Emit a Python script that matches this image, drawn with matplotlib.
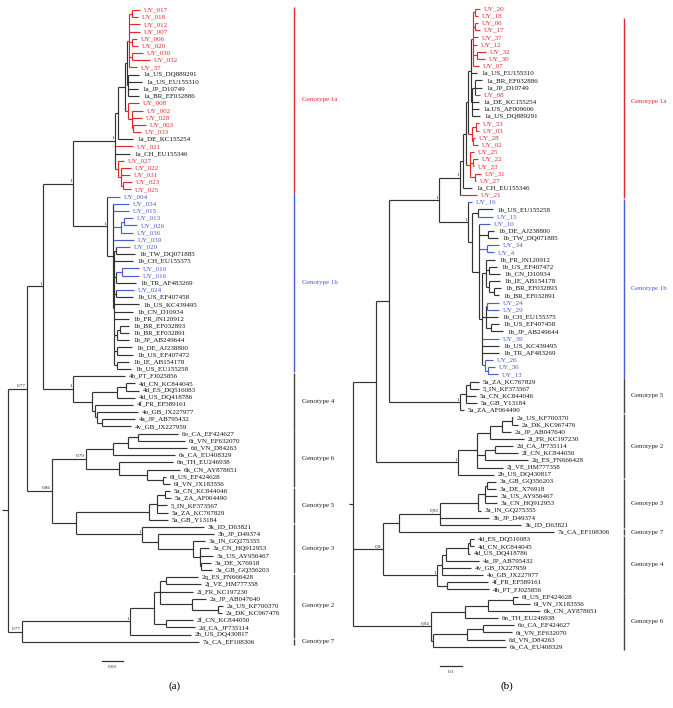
import matplotlib
matplotlib.use("Agg")
import matplotlib.pyplot as plt
from matplotlib.transforms import blended_transform_factory

# ---------------- data ----------------
# Branch lengths are given in scale-bar pixels of the original figure;
# unit = SCALE / SCALE_PX converts them to substitutions/site.
SCALE_A, SCALE_A_PX = 0.09, 21.0
SCALE_B, SCALE_B_PX = 0.1, 22.0

TREE_A = """
(
 (
  (
   (
    (
     (
      (
       (
       ((UY_017:8,UY_018:6):3,UY_012:11,UY_007:11,(UY_006:5,UY_020:6):3,(UY_030:11,UY_032:18):3,UY_37:8):2,
       (1a_US_DQ889291:11,1a_US_EU155310:14,1a_JP_D10749:10,1a_BR_EF032886:11):1
      ):2,
      (UY_008:11,(UY_002:11,UY_028:10,(UY_003:13,UY_033:8):1):4):3
     ):7,
     1a_DE_KC155254:15
    ):3,
    UY_021:18,
    1a_CH_EU155346:15,
    (UY_027:6,(UY_022:10,UY_031:9,(UY_023:9,UY_025:8):2):3):3
   )1:42,
   (UY_004:13,
    (UY_034:16,UY_015:16,((UY_013:9,UY_026:13):3,UY_036:12):8,UY_039:21,
     ((UY_029:14,1b_TW_DQ071885:19):2,1b_CH_EU155375:19,((UY_010:17,UY_016:17):6,1b_TR_AF483269:20):2,
      (UY_024:18,1b_US_EF407458:17):2,1b_US_KC439495:25,1b_CN_D10934:19,1b_FR_JN120912:15,
      ((1b_BR_EF032893:9,1b_BR_EF032891:9):3,1b_JP_AB249644:12):3,
      (1b_DE_AJ238800:15,1b_US_EF407472:16):3,(1b_IE_AB154178:12,1b_US_EU155258:14):3):1
    ):6
   )1:34
  )1:30,
  (4b_PT_FJ025856:52,
   (((4d_CN_KC844045:9,4d_ES_DQ516083:13):9,4d_US_DQ418786:18):25,
    (4f_FR_EF589161:38,(4o_GB_JX227977:41,(4a_JP_AB795432:33,4v_GB_JX227959:29):5):2):3):19
  )1:30
 )1:16,
 (
  ((((6o_CA_EF424627:40,6t_VN_EF632070:47):10,6d_VN_D84263:59):15,6s_CA_EU408329:62):27,
   (6n_TH_EU246938:54,(6k_CN_AY878651:33,(6l_US_EF424628:3,6l_VN_JX183556:7):16):28):33)0.79:34,
  ((((5a_CN_KC844046:5,5a_ZA_AF064490:6):8,5_IN_KF373567:10,5a_ZA_KC767829:11):8,5a_GB_Y13184:19):73,
   (3k_ID_D63821:62,(3b_JP_D49374:56,(3a_IN_GQ275355:12,(3a_CN_HQ912953:9,3a_US_AY956467:13,
     (3a_DE_X76918:10,3a_GB_GQ356203:11):1):7):35):16)1:66):24
 )0.86:25
)0.77:19,
(
 ((((2q_ES_FN666428:32,2j_VE_HM777358:35):6,2i_FR_KC197230:33,
     (2a_JP_AB047640:14,(2a_US_KF700370:5,2a_DK_KC967476:4):26):32):6,
    (2f_CN_KC844050:27,2d_CA_JF735114:29):12):24,2h_US_DQ430817:61)1:108,
 7a_CA_EF108306:177
)0.77:14
):6;
"""

TREE_B = """
(
 (
  (
   (
    (
     (
      (
       (
        (
        ((UY_20:5,UY_18:3):2,(UY_06:3,UY_17:5):2,UY_37:5,UY_12:4,(UY_32:9,UY_30:8):4,UY_07:6):2,
        1a_US_EU155310:6,
        ((1a_BR_EF032886:7,1a_JP_D10749:7,UY_08:5):3,1a_DE_KC155254:7,1a.US_AF009606:7,1a_US_DQ889291:8):1
       ):3,
       ((UY_33:3,UY_03:3):4,(UY_28:2,UY_02:5):1):4
      ):2,
      (UY_25:4,(UY_22:5,UY_23:1):3,(UY_31:6,UY_27:1):5):4
     ):3,
     1a_CH_EU155346:9
    ):3,
    UY_21:17
   )1:21,
   (UY_16:4,
    ((1b_US_EU155258:15,UY_15:15):6,
     (UY_10:11,(1b_DE_AJ238800:6,1b_TW_DQ071885:10):9,(UY_34:12,UY_4:7):8,
      ((1b_FR_JN120912:9,(1b_US_EF407472:8,1b_CN_D10934:11):3,(1b_IE_AB154178:11,(1b_BR_EF032893:7,1b_BR_EF032891:5):5):3):4,
       ((UY_24:12,UY_29:12):1,1b_CH_EU155375:12,(1b_US_EF407458:8,1b_JP_AB249644:12):5):4,
       UY_39:17,1b_US_KC439495:17,1b_TR_AF483269:17,
       (UY_26:8,(UY_36:7,UY_13:10):3):3):3
     ):7
    ):4
   )1:29
  )1:50,
  (((5a_ZA_KC767829:9,5_IN_KF373567:9):4,5a_CN_KC844046:10,5a_GB_Y13184:11):6,5a_ZA_AF064490:4)1:71
 ):13,
 (
  ((((2a_US_KF700370:1,2a_DK_KC967476:6):10,2a_JP_AB047640:9):12,2i_FR_KC197230:34):13,
   ((2d_CA_JF735114:18,2f_CN_KC844050:23):10,2q_ES_FN666428:43):8,
   2j_VE_HM777358:26):19,
  2b_US_DQ430817:36
 )1:82
):23,
(
 (
  ((((3a_GB_GQ356203:9,3a_DE_X76918:9):2,3a_US_AY956467:12,3a_CN_HQ912953:12):7,3a_IN_GQ275355:3):38,
   3b_JP_D49374:49,3k_ID_D63821:81)0.92:41,
  7a_CA_EF108306:155
 ):16,
 (((((4d_ES_DQ516083:4,4d_CN_KC844045:4):2,4d_US_DQ418786:2):22,4a_JP_AB795432:33):4,
   4v_GB_JX227959:29,4o_GB_JX227977:41):5,
  (4f_FR_EF589161:41,4b_PT_FJ025856:42):10)1:54
)0.8:30,
(
 (((6l_US_EF424628:5,6l_VN_JX183556:17):25,6k_CN_AY878651:52):23,6n_TH_EU246938:33):34,
 (((6o_CA_EF424627:31,6t_VN_EF632070:29):16,6d_VN_D84263:38):34,6s_CA_EU408329:73):2
)0.94:78
):4;
"""

RED = "#e4262d"
BLUE = "#4a5bd6"
DARK = "#333333"

# (label, first leaf, last leaf, colour)
GROUPS_A = [
    ("Genotype 1a", "UY_017", "UY_025", RED),
    ("Genotype 1b", "UY_004", "1b_US_EU155258", BLUE),
    ("Genotype 4", "4b_PT_FJ025856", "4v_GB_JX227959", DARK),
    ("Genotype 6", "6o_CA_EF424627", "6l_VN_JX183556", DARK),
    ("Genotype 5", "5a_CN_KC844046", "5a_GB_Y13184", DARK),
    ("Genotype 3", "3k_ID_D63821", "3a_GB_GQ356203", DARK),
    ("Genotype 2", "2q_ES_FN666428", "2h_US_DQ430817", DARK),
    ("Genotype 7", "7a_CA_EF108306", "7a_CA_EF108306", DARK),
]
GROUPS_B = [
    ("Genotype 1a", "UY_20", "UY_21", RED),
    ("Genotype 1b", "UY_16", "UY_13", BLUE),
    ("Genotype 5", "5a_ZA_KC767829", "5a_ZA_AF064490", DARK),
    ("Genotype 2", "2a_US_KF700370", "2b_US_DQ430817", DARK),
    ("Genotype 3", "3a_GB_GQ356203", "3k_ID_D63821", DARK),
    ("Genotype 7", "7a_CA_EF108306", "7a_CA_EF108306", DARK),
    ("Genotype 4", "4d_ES_DQ516083", "4b_PT_FJ025856", DARK),
    ("Genotype 6", "6l_US_EF424628", "6s_CA_EU408329", DARK),
]
# bracket of panel (b) genotype 1a starts lower than its first leaf
BAR_START_B = {"Genotype 1a": "UY_06"}

SERIF = ["Liberation Serif", "DejaVu Serif"]
FS_LEAF = 5.0
FS_SUPPORT = 3.6


def parse_newick(text):
    s = "".join(text.split())
    pos = 0

    def node():
        nonlocal pos
        n = {"children": [], "name": "", "label": "", "length": 0.0}
        if s[pos] == "(":
            pos += 1
            while True:
                n["children"].append(node())
                if s[pos] == ",":
                    pos += 1
                    continue
                pos += 1  # ')'
                break
        start = pos
        while pos < len(s) and s[pos] not in ",():;":
            pos += 1
        txt = s[start:pos]
        if n["children"]:
            n["label"] = txt
        else:
            n["name"] = txt
        if pos < len(s) and s[pos] == ":":
            pos += 1
            start = pos
            while pos < len(s) and s[pos] not in ",();":
                pos += 1
            n["length"] = float(s[start:pos])
        return n

    return node()


def layout(n, x, unit, leaves):
    n["x"] = x
    if not n["children"]:
        n["y"] = len(leaves)
        leaves.append(n)
    else:
        for c in n["children"]:
            layout(c, x + c["length"] * unit, unit, leaves)
        n["y"] = 0.5 * (n["children"][0]["y"] + n["children"][-1]["y"])


def colorize(n, leaf_color):
    if not n["children"]:
        n["color"] = leaf_color.get(n["name"], DARK)
    else:
        cols = {colorize(c, leaf_color) for c in n["children"]}
        n["color"] = cols.pop() if len(cols) == 1 else DARK
    return n["color"]


def draw_tree(ax, newick, groups, unit, scale, scale_x0, sep, ylim, xlim,
              bar_fx, lab_fx, bar_start=None):
    bar_start = bar_start or {}
    root = parse_newick(newick)
    leaves = []
    layout(root, 0.0, unit, leaves)
    index = {lf["name"]: lf["y"] for lf in leaves}
    leaf_color = {}
    for _, first, last, col in groups:
        for lf in leaves:
            if index[first] <= lf["y"] <= index[last]:
                leaf_color[lf["name"]] = col if lf["name"].startswith("UY") else DARK
    colorize(root, leaf_color)

    lw = 0.85

    def draw(n, parent_x):
        ax.plot([parent_x, n["x"]], [n["y"], n["y"]], color=n["color"], lw=lw,
                solid_capstyle="butt")
        if n["children"]:
            ys = [c["y"] for c in n["children"]]
            ax.plot([n["x"], n["x"]], [min(ys), max(ys)], color=n["color"], lw=lw,
                    solid_capstyle="butt")
            if n["label"]:
                ax.annotate(n["label"].replace(".", sep), (n["x"], n["y"]),
                            xytext=(-1.0, 0.4), textcoords="offset points",
                            ha="right", va="bottom", fontsize=FS_SUPPORT,
                            family=SERIF, color="#222222")
            for c in n["children"]:
                draw(c, n["x"])
        else:
            col = n["color"] if n["name"].startswith("UY") else "#111111"
            ax.annotate(n["name"], (n["x"], n["y"]), xytext=(2.9, 0),
                        textcoords="offset points", ha="left", va="center",
                        fontsize=FS_LEAF, family=SERIF, color=col)

    draw(root, -root["length"] * unit)

    tr = blended_transform_factory(ax.transAxes, ax.transData)
    for name, first, last, col in groups:
        y0, y1 = index[first] - 0.45, index[last] + 0.45
        yb0 = index[bar_start[name]] - 0.7 if name in bar_start else y0
        ax.plot([bar_fx, bar_fx], [yb0, y1], color=col if col != DARK else "#444444",
                lw=1.0, transform=tr, solid_capstyle="butt")
        ax.text(lab_fx, 0.5 * (y0 + y1), name, transform=tr, ha="left",
                va="center", fontsize=FS_LEAF, family=SERIF,
                color=col if col != DARK else "#222222")

    ysb = len(leaves) + 1.7
    ax.plot([scale_x0, scale_x0 + scale], [ysb, ysb], color="#333333", lw=0.9)
    ax.annotate(f"{scale:g}", (scale_x0 + scale / 2, ysb), xytext=(0, -2.5),
                textcoords="offset points", ha="center", va="top",
                fontsize=FS_SUPPORT, family=SERIF, color="#222222")

    ax.set_xlim(*xlim)
    ax.set_ylim(*ylim)
    ax.axis("off")


W, H = 673, 708
fig = plt.figure(figsize=(W / 100, H / 100), dpi=100)

uA = SCALE_A / SCALE_A_PX
uB = SCALE_B / SCALE_B_PX

axA = fig.add_axes([0, 0, 336 / W, 1])
draw_tree(axA, TREE_A, GROUPS_A, uA, SCALE_A, 94 * uA, ".",
          ylim=((H - 10) / 7.18, -10 / 7.18), xlim=(-8 * uA, 328 * uA),
          bar_fx=294 / 336, lab_fx=302 / 336)

axB = fig.add_axes([336 / W, 0, 337 / W, 1])
draw_tree(axB, TREE_B, GROUPS_B, uB, SCALE_B, 87 * uB, ",",
          ylim=((H - 8.7) / 7.17, -8.7 / 7.17), xlim=(-17 * uB, 320 * uB),
          bar_fx=288 / 337, lab_fx=295 / 337, bar_start=BAR_START_B)

fig.text(175 / W, 1 - 686 / H, "(a)", ha="center", va="center", fontsize=8,
         family=SERIF)
fig.text(507 / W, 1 - 686 / H, "(b)", ha="center", va="center", fontsize=8,
         family=SERIF)

fig.savefig("out.png", dpi=100, facecolor="white")
